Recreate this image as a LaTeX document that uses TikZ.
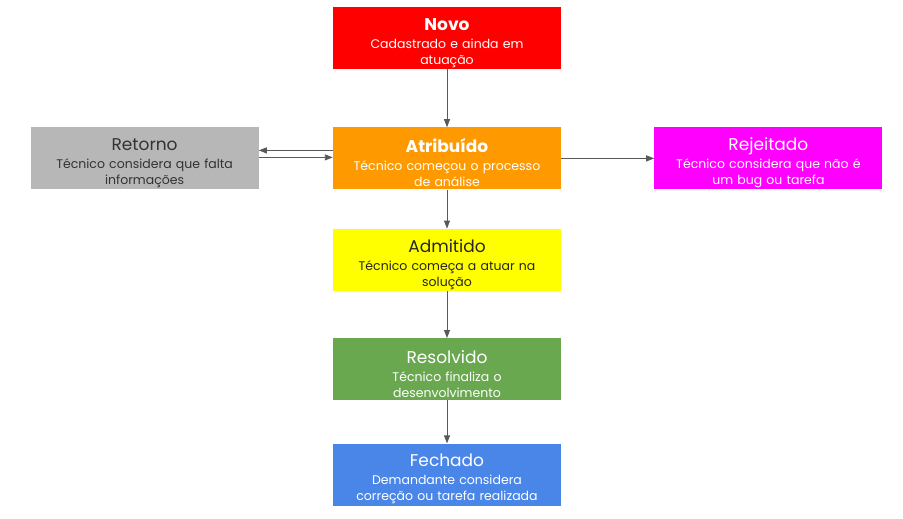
\documentclass[tikz,border=0pt]{standalone}
\usepackage{fontspec}
\setmainfont{Poppins}
\usetikzlibrary{positioning,arrows.meta}

\definecolor{novoRed}{HTML}{FF0000}
\definecolor{atribOrange}{HTML}{FF9900}
\definecolor{retGray}{HTML}{B7B7B7}
\definecolor{rejMagenta}{HTML}{FF00FF}
\definecolor{admYellow}{HTML}{FFFF00}
\definecolor{resGreen}{HTML}{6AA84F}
\definecolor{fechBlue}{HTML}{4A86E8}
\definecolor{arrowGray}{HTML}{595959}

% title line of a status box
\newcommand{\sttl}[1]{\rule{0pt}{22pt}{\fontsize{17}{20}\selectfont #1}\\[2pt]}

\begin{document}
\begin{tikzpicture}[x=1pt,y=-1pt]

        \useasboundingbox (0,0) rectangle (903,519);

        % Styles for the status boxes and the arrows
        \tikzset{
            status/.style={minimum width=228pt, minimum height=62pt,
                text width=220pt, align=center, inner sep=0pt,
                font=\fontsize{12.5}{16}\selectfont},
            flow/.style={draw=arrowGray, line width=0.9pt,
                -{Triangle[length=8pt,width=6pt]}}
        }

        % Main column of the workflow
        \begin{scope}
            \node (novo) [status, fill=novoRed, text=white] at (447, 38)
            {\sttl{\bfseries Novo}Cadastrado e ainda em\\atuação};
            \node (atrib) [status, fill=atribOrange, text=white, below=58pt of novo]
            {\sttl{\bfseries Atribuído}Técnico começou o processo\\de análise};
            \node (adm) [status, fill=admYellow, text=black!85, below=39pt of atrib]
            {\sttl{Admitido}Técnico começa a atuar na\\solução};
            \node (res) [status, fill=resGreen, text=white, below=47pt of adm]
            {\sttl{Resolvido}Técnico finaliza o\\desenvolvimento};
            \node (fech) [status, fill=fechBlue, text=white, below=43pt of res]
            {\sttl{Fechado}Demandante considera\\correção ou tarefa realizada};
        \end{scope}

        % Side branches
        \node (ret) [status, fill=retGray, text=black!80, left=74pt of atrib]
        {\sttl{Retorno}Técnico considera que falta\\informações};
        \node (rej) [status, fill=rejMagenta, text=white, right=93pt of atrib]
        {\sttl{Rejeitado}Técnico considera que não é\\um bug ou tarefa};

        \begin{scope}
            \draw[flow] (novo) -- (atrib);
            \draw[flow] (atrib) -- (adm);
            \draw[flow] (adm) -- (res);
            \draw[flow] (res) -- (fech);
            \draw[flow] ([yshift=8pt]atrib.west) -- ([yshift=8pt]ret.east);
            \draw[flow] ([yshift=1pt]ret.east) -- ([yshift=1pt]atrib.west);
            \draw[flow] (atrib.east) -- (rej.west);
        \end{scope}

        \end{tikzpicture}
\end{document}
